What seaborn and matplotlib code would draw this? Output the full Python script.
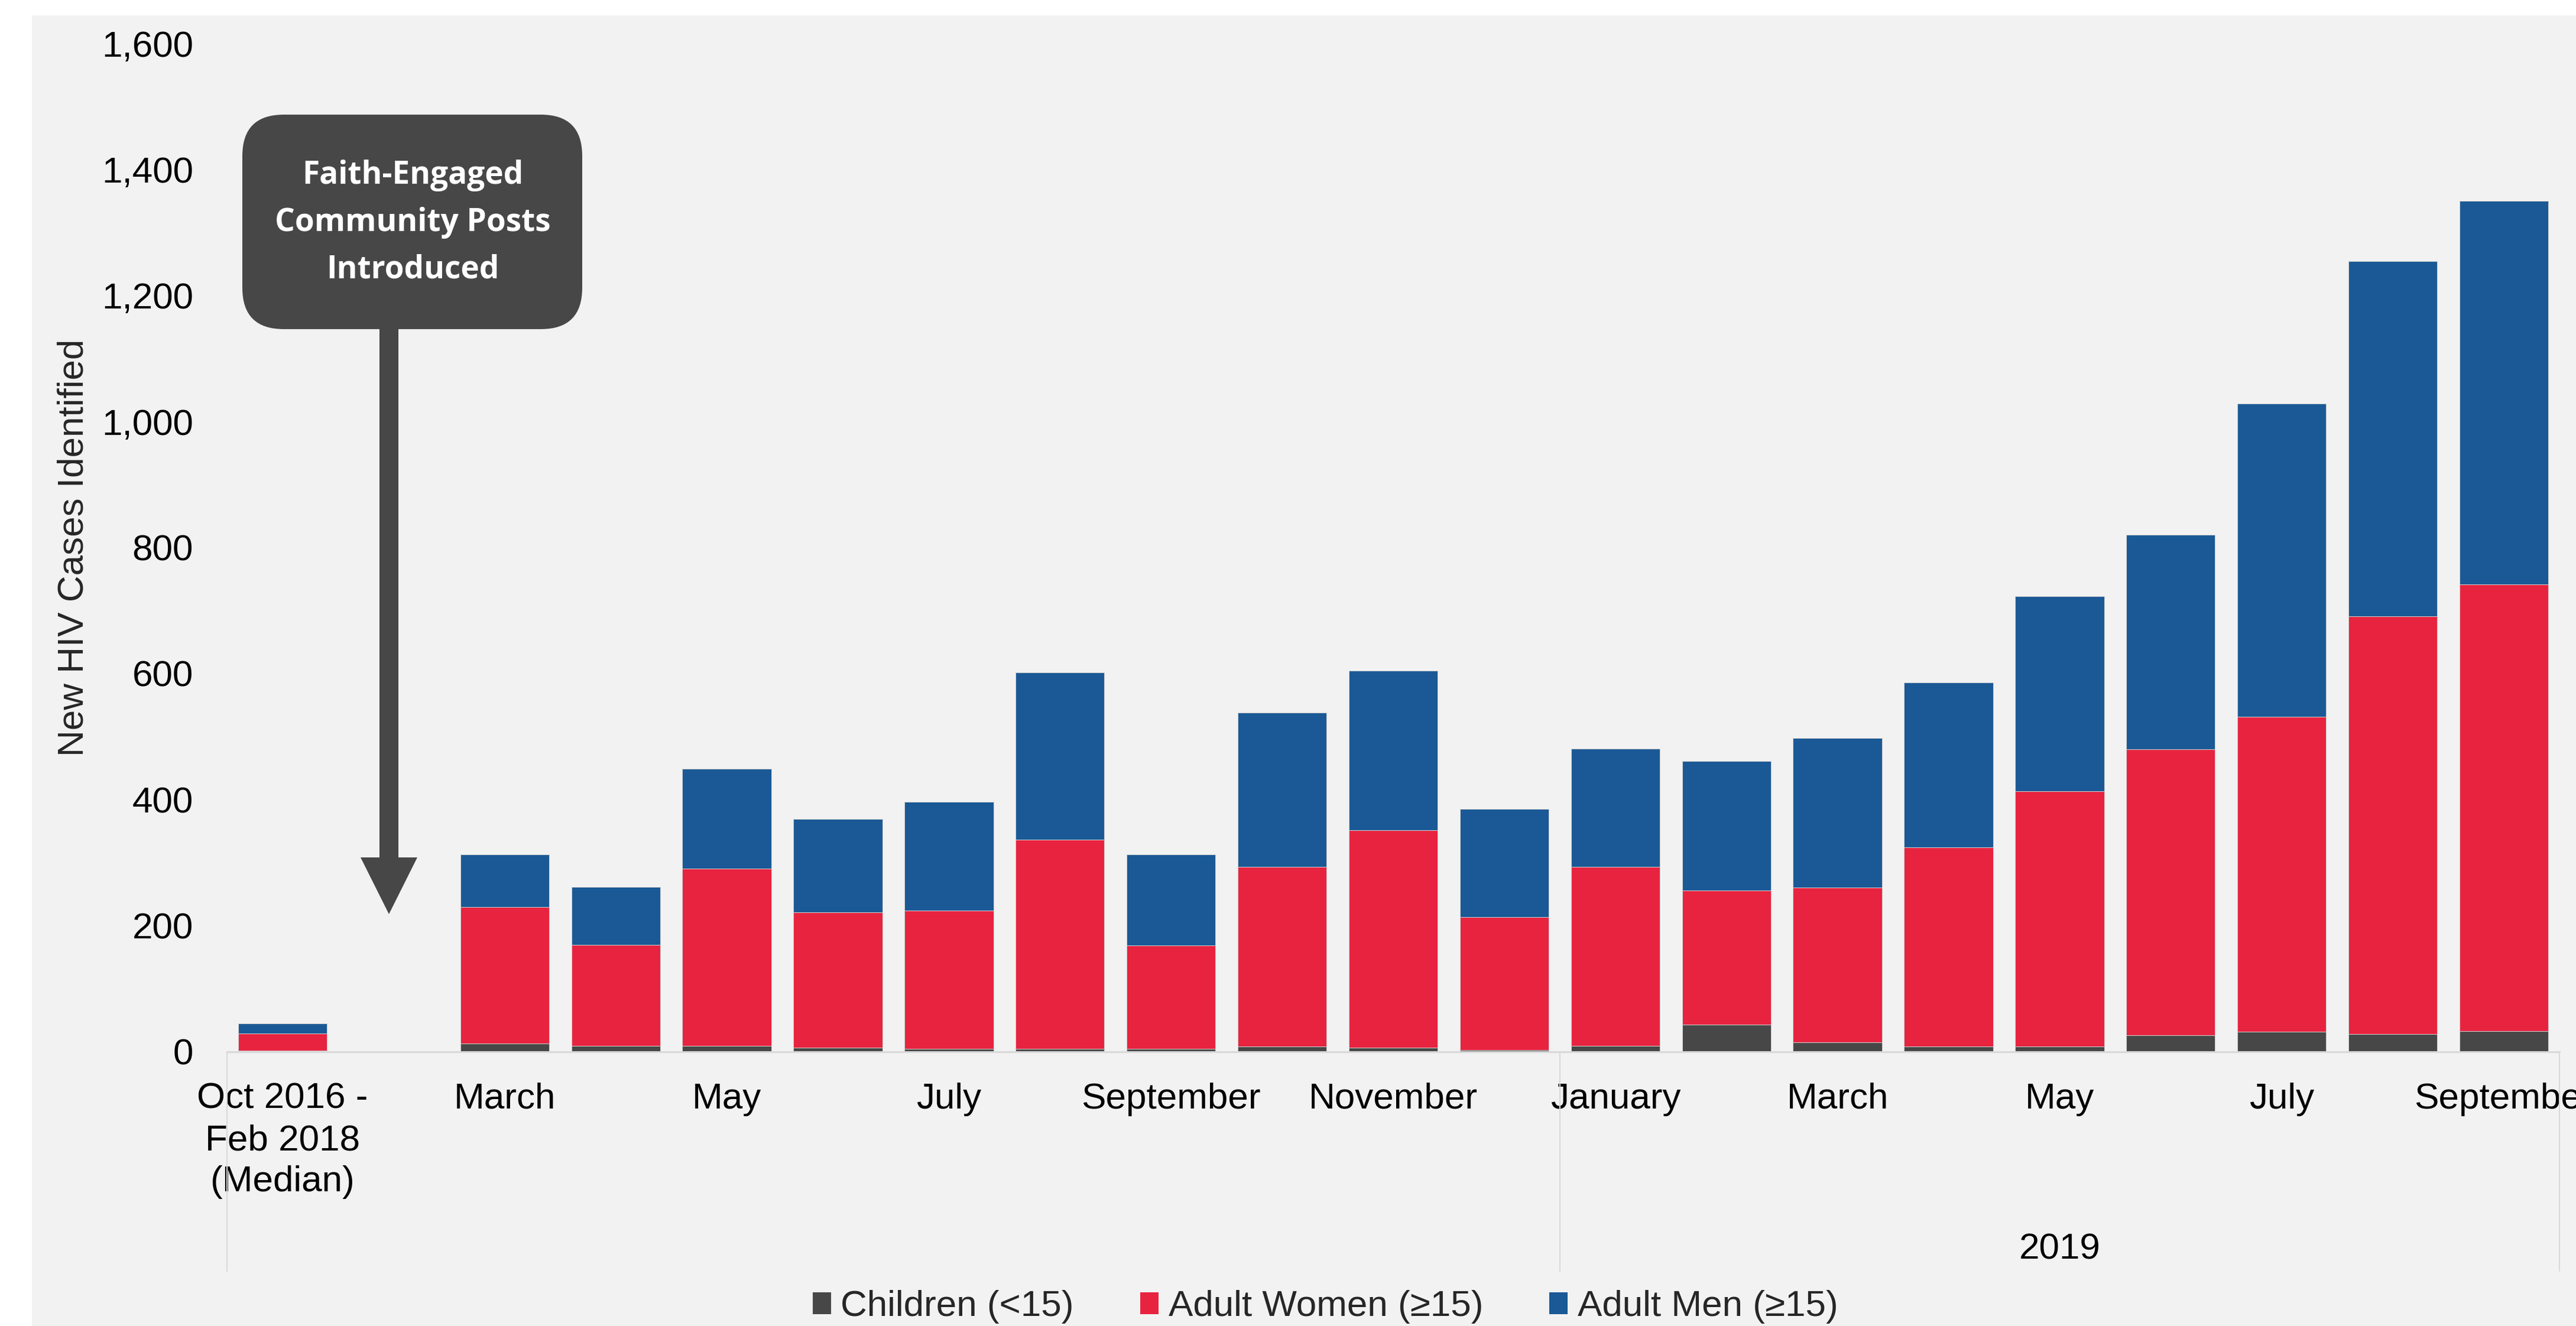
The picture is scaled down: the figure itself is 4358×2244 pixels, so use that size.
import numpy as np
import pandas as pd
import matplotlib
matplotlib.use("Agg")
import matplotlib.pyplot as plt
import matplotlib.transforms as mtrans
from matplotlib.patches import FancyBboxPatch, FancyArrow, Rectangle, Patch
from matplotlib.ticker import FuncFormatter
import seaborn as sns

# ---------------- data ----------------
periods = ["Oct 2016 - Feb 2018 (Median)", "gap",
           "Mar 2018", "Apr 2018", "May 2018", "Jun 2018", "Jul 2018",
           "Aug 2018", "Sep 2018", "Oct 2018", "Nov 2018", "Dec 2018",
           "Jan 2019", "Feb 2019", "Mar 2019", "Apr 2019", "May 2019",
           "Jun 2019", "Jul 2019", "Aug 2019", "Sep 2019"]
children = [1, 0, 13, 9, 9, 6, 4, 4, 4, 8, 6, 2, 9, 43, 15, 8, 8, 26, 31, 28, 32]
women = [28, 0, 216, 160, 281, 215, 220, 332, 164, 285, 345, 211, 284, 213, 245,
         316, 405, 454, 500, 663, 710]
men = [16, 0, 84, 92, 159, 148, 172, 266, 145, 245, 254, 172, 188, 205, 238,
       262, 310, 340, 498, 564, 608]
tick_labels = ["Oct 2016 -\nFeb 2018\n(Median)", "", "March", "", "May", "", "July", "",
               "September", "", "November", "", "January", "", "March", "", "May", "",
               "July", "", "September"]
series_names = ["Children (<15)", "Adult Women (\u226515)", "Adult Men (\u226515)"]
group_label = "2019"
y_ticks = [0, 200, 400, 600, 800, 1000, 1200, 1400, 1600]
callout = "Faith-Engaged\nCommunity Posts\nIntroduced"

# ---------------- style ----------------
DARK = "#474747"
RED = "#E8233F"
BLUE = "#1A5996"
BG = "#F2F2F2"
LINE = "#D9D9D9"
FS = 14.9

sns.set_theme(style="white")
plt.rcParams["font.family"] = ["Liberation Sans", "DejaVu Sans"]

W, H, DPI = 4358, 2244, 300
fig = plt.figure(figsize=(W / DPI, H / DPI), dpi=DPI, facecolor="white")
fig.add_artist(Rectangle((54 / DPI, 0), (W - 54) / DPI, (H - 26) / DPI,
                         transform=fig.dpi_scale_trans, facecolor=BG,
                         edgecolor="none", zorder=-10))

ax_l, ax_r, ax_t, ax_b = 384, 4330, 74, 1779.5
ax = fig.add_axes([ax_l / W, (H - ax_b) / H, (ax_r - ax_l) / W, (ax_b - ax_t) / H])
ax.set_facecolor("none")

df = pd.DataFrame({"period": periods, "children": children, "women": women, "men": men})
df["cw"] = df["children"] + df["women"]
df["total"] = df["cw"] + df["men"]

for col, color in [("total", BLUE), ("cw", RED), ("children", DARK)]:
    sns.barplot(data=df, x="period", y=col, order=periods, color=color,
                saturation=1, width=0.8, errorbar=None, ax=ax,
                edgecolor="#d0d0d0", linewidth=0.25)

ax.set_xlim(-0.5, len(periods) - 0.5)
ax.set_ylim(0, 1600)
ax.set_yticks(y_ticks)
ax.yaxis.set_major_formatter(FuncFormatter(lambda v, p: f"{int(v):,}"))
ax.set_xticks(range(len(periods)))
ax.set_xticklabels(tick_labels, linespacing=1.3)
ax.tick_params(axis="both", length=0, labelsize=FS, colors="black")
ax.tick_params(axis="x", pad=12.6)
ax.tick_params(axis="y", pad=13.7)
ax.set_xlabel("")
ax.set_ylabel("New HIV Cases Identified", fontsize=FS, va="center")
ax.yaxis.set_label_coords((125 - ax_l) / (ax_r - ax_l), 0.5)
for s in ["left", "top", "right"]:
    ax.spines[s].set_visible(False)
ax.spines["bottom"].set_color(LINE)
ax.spines["bottom"].set_linewidth(0.75)
ax.grid(False)

# multi-level axis separators and group label
trans = mtrans.blended_transform_factory(ax.transData, ax.transAxes)
ybot = -(2151 - ax_b) / (ax_b - ax_t)
for xv in [-0.5, 11.5, len(periods) - 0.5]:
    ax.plot([xv, xv], [0, ybot], transform=trans, color=LINE, lw=0.5, clip_on=False)
ax.text(16, -(2115 - ax_b) / (ax_b - ax_t), group_label, transform=trans,
        ha="center", va="center", fontsize=FS, color="black")

# legend
handles = [Patch(facecolor=c, edgecolor="none") for c in [DARK, RED, BLUE]]
fig.legend(handles, series_names, loc="center", bbox_to_anchor=(2242 / W, 1 - 2212 / H),
           ncol=3, frameon=False, fontsize=FS, handlelength=0.5, handleheight=0.55,
           handletextpad=0.27, columnspacing=1.8, borderaxespad=0, borderpad=0)

# callout box and arrow
box = FancyBboxPatch((410 / DPI, (H - 557) / DPI), 575 / DPI, 363 / DPI,
                     boxstyle=f"round,pad=0,rounding_size={70 / DPI}",
                     transform=fig.dpi_scale_trans, facecolor=DARK, edgecolor="none")
fig.add_artist(box)
fig.text(698 / W, 1 - 377 / H, callout, ha="center", va="center", color="white",
         fontsize=12.75, fontweight="bold", family=["Open Sans", "DejaVu Sans"],
         linespacing=1.63)
arrow = FancyArrow(658 / DPI, (H - 557) / DPI, 0, -(1547 - 557) / DPI,
                   width=32 / DPI, head_width=96 / DPI, head_length=96 / DPI,
                   length_includes_head=True, transform=fig.dpi_scale_trans,
                   facecolor=DARK, edgecolor="none")
fig.add_artist(arrow)

fig.savefig("out.png", dpi=DPI, facecolor="white")
